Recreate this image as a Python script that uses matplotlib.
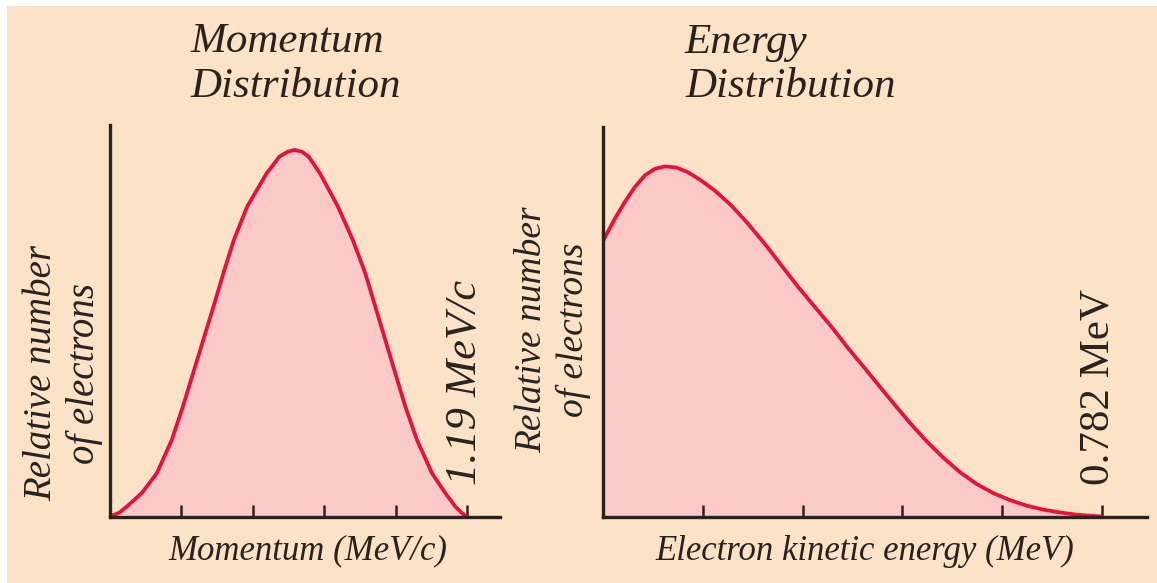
import matplotlib

matplotlib.use("Agg")
import matplotlib.pyplot as plt
from matplotlib.patches import Rectangle

# momentum distribution (MeV/c, relative number)
mom_p = [0.0, 0.030, 0.056, 0.106, 0.156, 0.206, 0.243, 0.277, 0.311, 0.345,
         0.378, 0.413, 0.457, 0.522, 0.565, 0.592, 0.615, 0.640, 0.662, 0.700,
         0.760, 0.809, 0.8508, 0.8842, 0.9175, 0.9509, 0.9843, 1.0232, 1.0732,
         1.1177, 1.1511, 1.172, 1.19]
mom_n = [0.0, 0.010, 0.027, 0.064, 0.118, 0.209, 0.300, 0.391, 0.482, 0.573,
         0.664, 0.755, 0.845, 0.936, 0.982, 0.995, 1.0, 0.995, 0.982, 0.936,
         0.845, 0.755, 0.664, 0.573, 0.482, 0.391, 0.300, 0.209, 0.118,
         0.064, 0.027, 0.010, 0.0]

# kinetic energy distribution (MeV, relative number)
en_E = [0.0, 0.0179, 0.0336, 0.0493, 0.0650, 0.0806, 0.0963, 0.1145, 0.1329,
        0.1538, 0.1748, 0.2008, 0.2270, 0.2532, 0.2793, 0.3055, 0.3317, 0.3577,
        0.3839, 0.4101, 0.432, 0.456, 0.481, 0.507, 0.533, 0.560, 0.586, 0.612,
        0.638, 0.664, 0.690, 0.717, 0.743, 0.768, 0.782]
en_n = [0.757, 0.816, 0.862, 0.903, 0.935, 0.953, 0.960, 0.957, 0.944,
        0.921, 0.894, 0.853, 0.803, 0.748, 0.689, 0.630, 0.575, 0.521,
        0.462, 0.407, 0.360, 0.309, 0.257, 0.207, 0.162, 0.121, 0.089, 0.064,
        0.045, 0.030, 0.019, 0.011, 0.005, 0.0015, 0.0]

p_ticks = [0.238, 0.476, 0.714, 0.952, 1.19]
e_ticks = [0.1564, 0.3128, 0.4692, 0.6256, 0.782]

BG = "#fce2c7"
FILL = "#fcc9c9"
RED = "#e8103c"
INK = "#2b221d"
FONT = ["Liberation Serif", "DejaVu Serif"]

W, H = 1157, 583
fig = plt.figure(figsize=(W / 100, H / 100), dpi=100)
fig.patch.set_facecolor("white")
fig.add_artist(Rectangle((7 / W, 0), 1, 1 - 6 / H, transform=fig.transFigure,
                         facecolor=BG, edgecolor="none", zorder=-10))


def fx(px):
    return px / W


def fy(py):
    return 1 - py / H


def panel(x0, x1, y_top, xmax, xs, ys, ticks):
    bottom = fy(516.5)
    ax = fig.add_axes([fx(x0), bottom, fx(x1 - x0), fy(y_top) - bottom])
    ax.patch.set_alpha(0)
    ax.fill_between(xs, ys, 0, color=FILL, lw=0, zorder=1)
    ax.plot(xs, ys, color=RED, lw=2.7, solid_capstyle="round",
            solid_joinstyle="round", zorder=3)
    ax.set_xlim(0, xmax)
    ax.set_ylim(0, 1.068)
    for s in ("top", "right"):
        ax.spines[s].set_visible(False)
    for s in ("left", "bottom"):
        ax.spines[s].set_color(INK)
        ax.spines[s].set_linewidth(2.4)
        ax.spines[s].set_zorder(4)
    ax.set_xticks(ticks)
    ax.set_xticklabels([])
    ax.set_yticks([])
    ax.tick_params(axis="x", direction="in", length=9, width=1.8, color=INK)
    return ax


panel(110, 500, 125, 390 / 300, mom_p, mom_n, p_ticks)
panel(603.3, 1146.7, 127, 543.4 / 637.3, en_E, en_n, e_ticks)

txt = dict(family=FONT, style="italic", color=INK)

fig.text(fx(190), fy(23), "Momentum\nDistribution", fontsize=31,
         ha="left", va="top", linespacing=1.2, **txt)
fig.text(fx(685), fy(23), "Energy\nDistribution", fontsize=31,
         ha="left", va="top", linespacing=1.2, **txt)

fig.text(fx(308), fy(551), "Momentum (MeV/c)", fontsize=25,
         ha="center", va="center", **txt)
fig.text(fx(865), fy(551), "Electron kinetic energy (MeV)", fontsize=25,
         ha="center", va="center", **txt)

fig.text(fx(63), fy(373), "Relative number\nof electrons", fontsize=28,
         rotation=90, ha="center", va="center", linespacing=1.22, **txt)
fig.text(fx(553), fy(330), "Relative number\nof electrons", fontsize=27,
         rotation=90, ha="center", va="center", linespacing=1.25, **txt)

fig.text(fx(465), fy(485), "1.19 MeV/c", fontsize=32, rotation=90,
         ha="center", va="bottom", **txt)
fig.text(fx(1098), fy(485), "0.782 MeV", fontsize=31, rotation=90,
         ha="center", va="bottom", family=FONT, color=INK)

fig.savefig("out.png", dpi=100, facecolor=fig.get_facecolor())
